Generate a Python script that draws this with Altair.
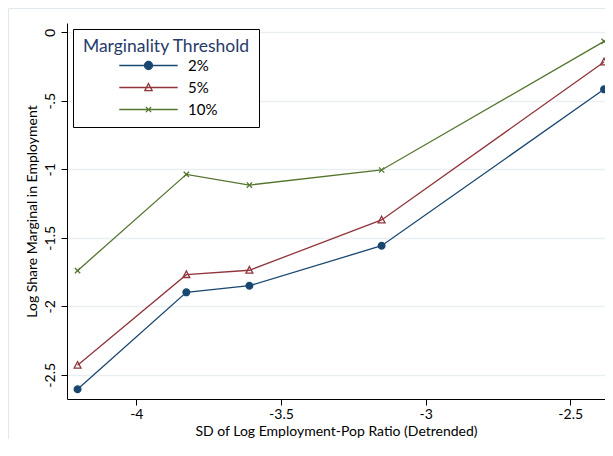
import altair as alt
import pandas as pd

# ---- data ----
x_vals = [-4.203, -3.827, -3.609, -3.152, -2.383]
share_2 = [-2.606, -1.898, -1.850, -1.558, -0.416]
share_5 = [-2.431, -1.769, -1.737, -1.370, -0.217]
share_10 = [-1.740, -1.037, -1.115, -1.005, -0.066]
series_names = ["2%", "5%", "10%"]
series_colors = ["#1a476f", "#90353b", "#55752f"]

x_ticks = [-4, -3.5, -3, -2.5]
y_ticks = [0, -0.5, -1, -1.5, -2, -2.5]

rows = []
for name, vals in zip(series_names, [share_2, share_5, share_10]):
    for xv, yv in zip(x_vals, vals):
        rows.append({"x": xv, "y": yv, "series": name})
df = pd.DataFrame(rows)


def ring(r):
    return f"M{-r},0A{r},{r},0,1,0,{r},0A{r},{r},0,1,0,{-r},0Z"


# marker shapes (unit = 8 px with size 256)
m_circle_solid = ring(0.5) + ring(0.35) + ring(0.2) + ring(0.07)
m_tri_leg = "M0,-0.5L0.46,0.4L-0.46,0.4Z"
m_x = "M-0.33,-0.33L0.33,0.33M-0.33,0.33L0.33,-0.33"
line_seg = "M-3.65,0H3.65"
legend_shapes = [line_seg + m_circle_solid, line_seg + m_tri_leg, line_seg + m_x]

m_circle = ring(0.42)
m_tri = "M0,-0.47L0.43,0.36L-0.43,0.36Z"
data_shapes = [m_circle, m_tri, m_x]
data_fills = ["#1a476f", "transparent", "transparent"]

W, H = 538, 376
x_scale = alt.Scale(domain=[-4.2395, -4.2395 + W / 289.3], nice=False, zero=False)
y_scale = alt.Scale(domain=[-2.677, 0.068], nice=False, zero=False)
stroke_scale = alt.Scale(domain=series_names, range=series_colors)

x_axis = alt.Axis(
    values=x_ticks, title="SD of Log Employment-Pop Ratio (Detrended)",
    labelExpr="'' + datum.value",
    grid=False, labelFontSize=14, titleFontSize=14, labelPadding=2, titlePadding=3,
    tickSize=6, tickColor="black", domainColor="black", labelColor="black",
    titleColor="black", titleFontWeight="normal", labelFlush=False,
)
y_axis = alt.Axis(
    values=y_ticks, title="Log Share Marginal in Employment",
    labelExpr="datum.value == -0.5 ? '-.5' : '' + datum.value",
    grid=True, gridColor="#eaf0f2", gridWidth=1.5,
    labelAngle=270, labelAlign="center", labelBaseline="bottom",
    labelFontSize=14, titleFontSize=14, labelPadding=4, titlePadding=4,
    tickSize=6, tickColor="black", domainColor="black", labelColor="black",
    titleColor="black", titleFontWeight="normal", labelFlush=False,
)

legend_def = alt.Legend(
    title="Marginality Threshold",
    orient="none", legendX=6, legendY=6,
    padding=9, strokeColor="black", fillColor="white", cornerRadius=0,
    titleFontSize=17.5, titleFontWeight="normal", titleColor="#283a6b",
    titleAnchor="middle", titlePadding=1,
    labelFontSize=15, labelColor="black", labelOffset=30.5,
    symbolOffset=24.5, symbolSize=256, symbolStrokeWidth=1.3,
    symbolOpacity=1, symbolFillColor="transparent", rowPadding=5,
    zindex=2,
)

frame = alt.Chart(pd.DataFrame({"a": [0]})).mark_rect(
    fill="transparent", stroke="#e1e9ec", strokeWidth=1
).encode(
    x=alt.value(-58.5), x2=alt.value(W + 40), y=alt.value(-14.5), y2=alt.value(H + 80)
)

layers = [frame]
for name, col in zip(series_names, series_colors):
    layers.append(
        alt.Chart(df).transform_filter(alt.datum.series == name).mark_line(
            strokeWidth=1.3, stroke=col
        ).encode(
            x=alt.X("x:Q", scale=x_scale, axis=x_axis),
            y=alt.Y("y:Q", scale=y_scale, axis=y_axis),
        )
    )

for name, col, shp, fil in zip(series_names, series_colors, data_shapes, data_fills):
    layers.append(
        alt.Chart(df).transform_filter(alt.datum.series == name).mark_point(
            shape=shp, size=256, strokeWidth=1.3, opacity=1, filled=False,
            stroke=col, fill=fil,
        ).encode(
            x=alt.X("x:Q", scale=x_scale),
            y=alt.Y("y:Q", scale=y_scale),
        )
    )

legend_layer = alt.Chart(df).transform_filter("false").mark_point(
    size=256, strokeWidth=1.3, opacity=1, filled=False
).encode(
    x=alt.X("x:Q", scale=x_scale),
    y=alt.Y("y:Q", scale=y_scale),
    stroke=alt.Stroke("series:N", scale=stroke_scale, legend=legend_def),
    shape=alt.Shape("series:N", scale=alt.Scale(domain=series_names, range=legend_shapes), legend=legend_def),
)
layers.append(legend_layer)

chart = alt.layer(*layers).properties(
    width=W, height=H,
    autosize=alt.AutoSizeParams(type="none"),
    padding={"left": 59, "top": 15, "right": 0, "bottom": 40},
).configure(
    font="Lato",
).configure_view(stroke=None)

chart.save("out.html", embed_options={"renderer": "svg", "actions": False})
